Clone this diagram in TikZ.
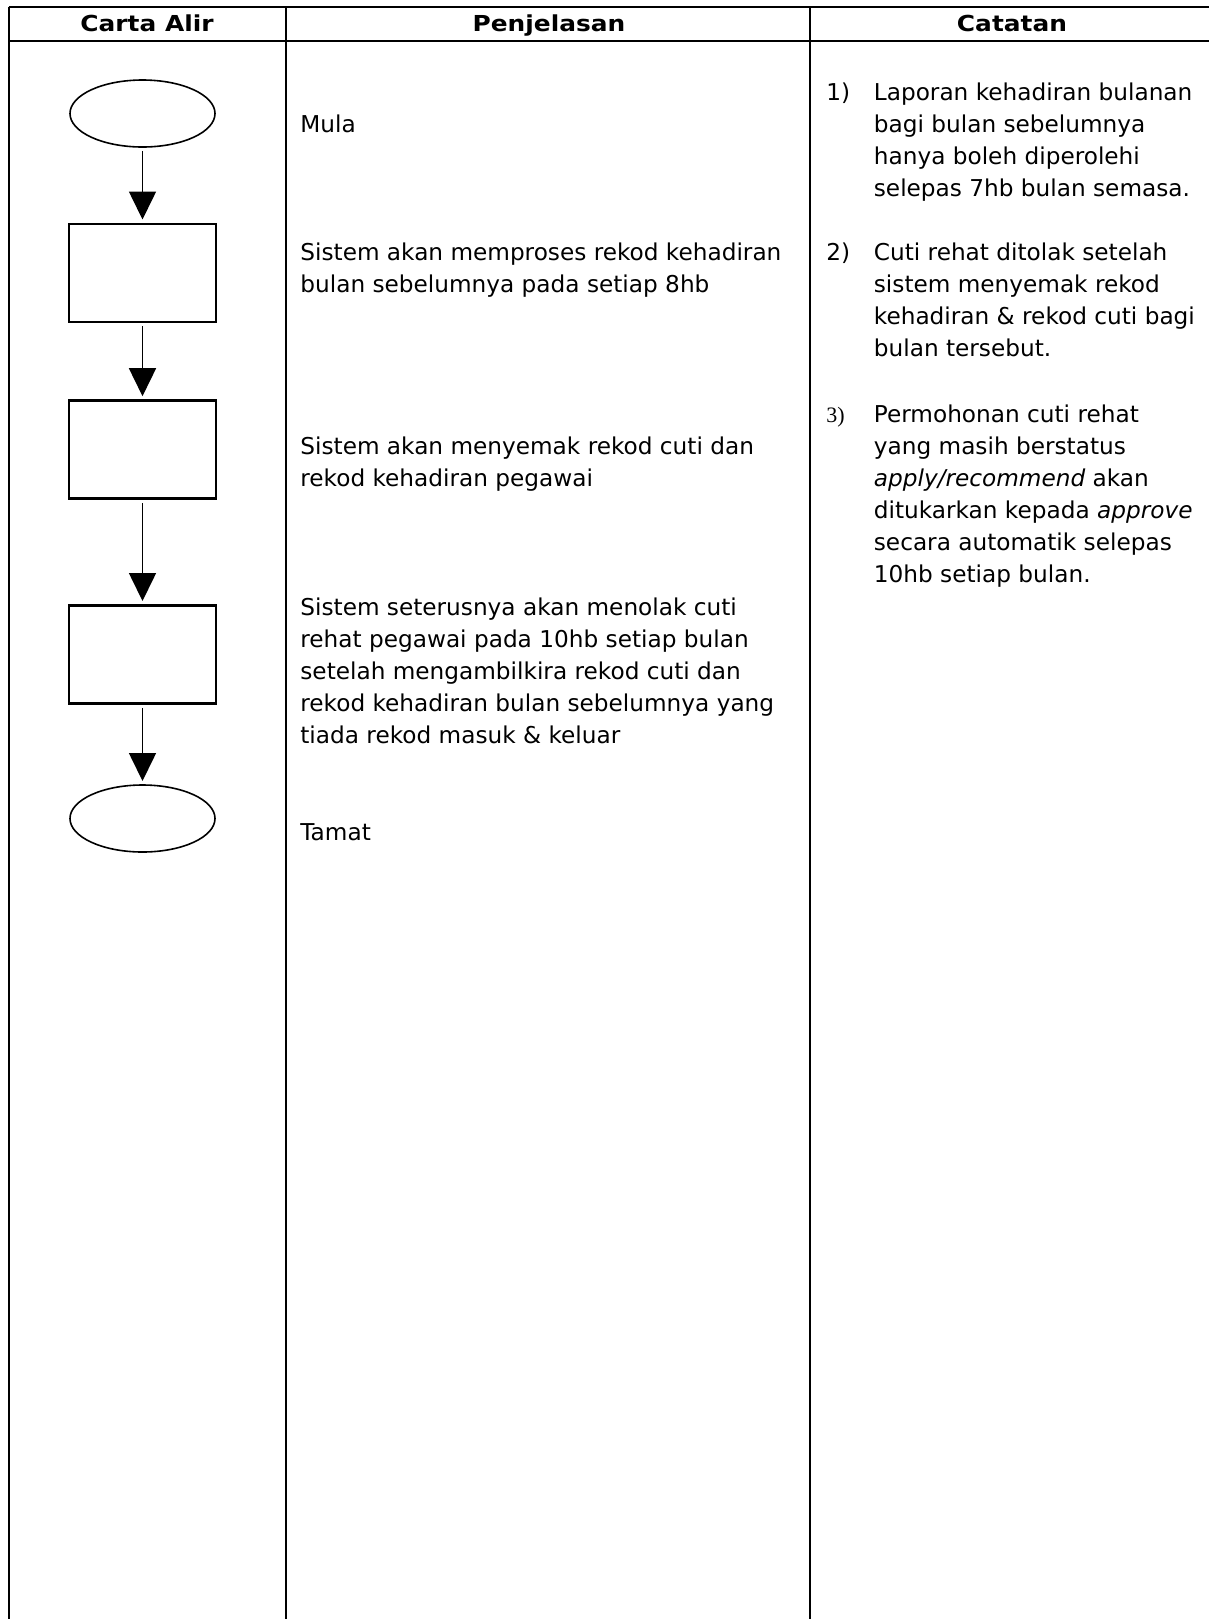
\documentclass[tikz,border=0pt]{standalone}
\usepackage{fontspec}
\setmainfont{DejaVu Sans}
\newfontfamily\hdfont{DejaVu Sans}[FakeStretch=1.13]
\newfontfamily\numserif{Liberation Serif}
\usetikzlibrary{shapes.geometric,arrows.meta}
\newcommand\txtblk[1]{\parbox[t]{300pt}{\raggedright #1}}
\begin{document}
\begin{tikzpicture}[x=0.5pt,y=-0.5pt,
  grid/.style={line width=1pt, black},
  term/.style={ellipse, draw, line width=0.8pt, minimum width=72.5pt, minimum height=33.5pt, inner sep=0pt},
  proc/.style={rectangle, draw, line width=1.3pt, minimum width=73.6pt, minimum height=49pt, inner sep=0pt},
  flow/.style={line width=0.8pt, -{Triangle[width=13.5pt,length=14pt]}, shorten <=1.5pt, shorten >=1.6pt},
  hdr/.style={font=\hdfont\bfseries\fontsize{11pt}{13pt}\selectfont, anchor=base, inner sep=0pt},
  body/.style={anchor=base west, inner sep=0pt, font=\fontsize{11.6pt}{16pt}\selectfont},
  num/.style={anchor=base west, inner sep=0pt, font=\fontsize{11.6pt}{16pt}\selectfont},
]
\useasboundingbox (0,0) rectangle (1209,1619);
\fill[white] (0,0) rectangle (1209,1619);

% table grid
\draw[grid] (8.5,7) -- (1215,7);
\draw[grid] (8.5,41) -- (1215,41);
\draw[grid] (8.5,7) -- (8.5,1625);
\draw[grid] (286,7) -- (286,1625);
\draw[grid] (810,7) -- (810,1625);

% headers
\node[hdr] (h1) at (147,31) {Carta Alir};
\node[hdr] (h2) at (549,31) {Penjelasan};
\node[hdr] (h3) at (1012,31) {Catatan};

% flowchart
\node[term] (start) at (142.5,113.5) {};
\node[proc] (p1) at (142.5,273) {};
\node[proc] (p2) at (142.5,449.7) {};
\node[proc] (p3) at (142.5,654.5) {};
\node[term] (stop) at (142.5,818.5) {};

\draw[flow] (start.south) -- (p1.north);
\draw[flow] (p1.south) -- (p2.north);
\draw[flow] (p2.south) -- (p3.north);
\draw[flow] (p3.south) -- (stop.north);

% explanations
\node[body] (e1) at (300,132) {Mula};
\node[body] (e2) at (300,260.5) {\txtblk{Sistem akan memproses rekod kehadiran\\bulan sebelumnya pada setiap 8hb}};
\node[body] (e3) at (300,454.5) {\txtblk{Sistem akan menyemak rekod cuti dan\\rekod kehadiran pegawai}};
\node[body] (e4) at (300,615.5) {\txtblk{Sistem seterusnya akan menolak cuti\\rehat pegawai pada 10hb setiap bulan\\setelah mengambilkira rekod cuti dan\\rekod kehadiran bulan sebelumnya yang\\tiada rekod masuk \& keluar}};
\node[body] (e5) at (300,840.5) {Tamat};

% notes
\node[num] (n1) at (826,100) {1)};
\node[body] (c1) at (873.5,100) {\txtblk{Laporan kehadiran bulanan\\bagi bulan sebelumnya\\hanya boleh diperolehi\\selepas 7hb bulan semasa.}};
\node[num] (n2) at (826,260.5) {2)};
\node[body] (c2) at (873.5,260.5) {\txtblk{Cuti rehat ditolak setelah\\sistem menyemak rekod\\kehadiran \& rekod cuti bagi\\bulan tersebut.}};
\node[num, font=\numserif\fontsize{11pt}{16pt}\selectfont] (n3) at (826,422.5) {3)};
\node[body] (c3) at (873.5,422.5) {\txtblk{Permohonan cuti rehat\\yang masih berstatus\\\textit{apply/recommend} akan\\ditukarkan kepada \textit{approve}\\secara automatik selepas\\10hb setiap bulan.}};
\end{tikzpicture}
\end{document}
